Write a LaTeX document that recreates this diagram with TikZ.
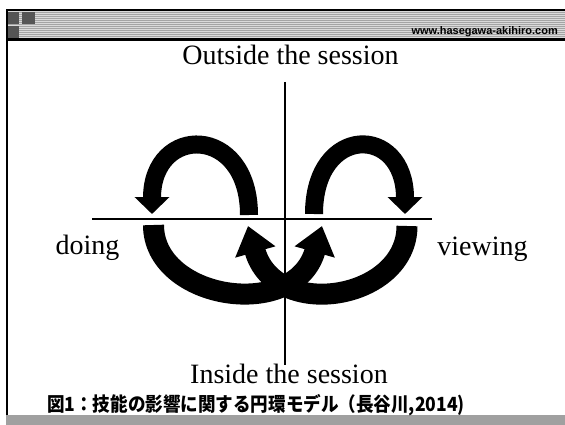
\documentclass[tikz,border=0pt]{standalone}
\usepackage{fontspec}
\setmainfont{Liberation Serif}
\newfontfamily\jpfont{Noto Sans CJK JP Black}
\newfontfamily\urlfont{Liberation Sans}
\usetikzlibrary{arrows.meta}
\definecolor{hdrlight}{HTML}{DADADA}
\definecolor{hdrdark}{HTML}{A4A4A4}
\definecolor{sqgray}{HTML}{555555}
\definecolor{bandgray}{HTML}{A0A0A0}
\begin{document}
\begin{tikzpicture}[x=1pt,y=-1pt,
  axisline/.style={line width=2pt},
  arch/.style={line width=18pt,-{Triangle[width=34pt,length=17pt]}},
  band/.style={line width=21pt,-{Triangle[width=40pt,length=27pt]}},
  lbl/.style={font=\fontsize{28}{30}\selectfont, inner sep=0pt, anchor=base}]
\useasboundingbox (0,0) rectangle (565,425);
\fill[white] (0,0) rectangle (565,425);
% header
\fill[hdrlight] (6,11) rectangle (565,38);
\foreach \k in {0,...,12} \fill[hdrdark] (6,11.8+2*\k) rectangle (565,12.9+2*\k);
\fill[black] (5.7,9) rectangle (565,11);
\fill[black] (5.7,38) rectangle (565,41.5);
\fill[sqgray] (8.3,12) rectangle (19.3,24);
\fill[sqgray] (22,12) rectangle (34.7,24);
\fill[sqgray] (8.3,26) rectangle (19.3,38);
\node[font=\urlfont\bfseries\fontsize{11}{12}\selectfont, inner sep=0pt, anchor=base east] (url) at (558,35) {www.hasegawa-akihiro.com};
% frame
\fill[black] (5.7,9) rectangle (7.5,415);
\fill[bandgray] (5.7,415) rectangle (565,425);
% axes
\coordinate (vtop) at (285,82);
\coordinate (vbot) at (285,365);
\coordinate (hl) at (92,219);
\coordinate (hr) at (432,219);
\draw[axisline] (vtop) -- (vbot);
\draw[axisline] (hl) -- (hr);
% upper arches
\coordinate (a1s) at (249,215);
\coordinate (a1e) at (152,214);
\draw[arch] (a1s) .. controls (249,124) and (152,124) .. (a1e);
\coordinate (a2s) at (314,214);
\coordinate (a2e) at (405,214);
\draw[arch] (a2s) .. controls (314,124) and (405,124) .. (a2e);
% lower bands
\coordinate (b1s) at (153.5,225);
\coordinate (b1e) at (322,226);
\draw[band] (b1s) .. controls (153.5,300) and (295,322) .. (b1e);
\coordinate (b2s) at (407,226);
\coordinate (b2e) at (248,226);
\draw[band] (b2s) .. controls (407,300) and (275,322) .. (b2e);
% labels
\node[lbl] (outside) at (290.5,65) {Outside the session};
\node[lbl] (inside) at (289,383) {Inside the session};
\node[lbl] (doing) at (87.5,254) {doing};
\node[lbl] (viewing) at (482.5,255) {viewing};
\node[font=\jpfont\fontsize{19.5}{21}\selectfont, inner sep=0pt, anchor=base west] (caption) at (47,411) {\scalebox{0.9}[1]{図1：技能の影響に関する円環モデル（長谷川,2014)}};
\end{tikzpicture}
\end{document}
